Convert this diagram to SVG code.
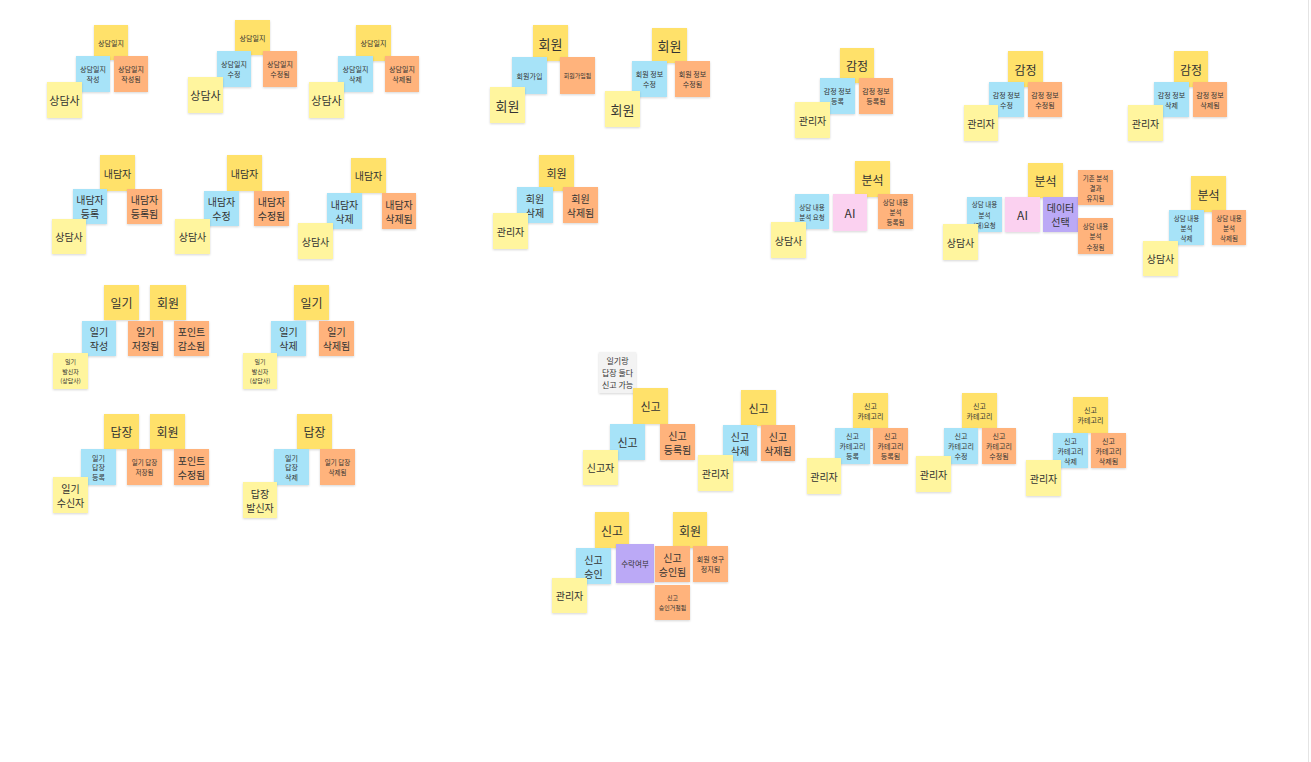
<svg xmlns="http://www.w3.org/2000/svg" width="1311" height="762" viewBox="0 0 1311 762">
<style>
rect{filter:url(#sh)}
.agg{fill:#FFE16A}
.act{fill:#FFF59E}
.cmd{fill:#A7E3F8}
.evt{fill:#FFB37C}
.ai{fill:#FBD1F0}
.pol{fill:#BBA9F6}
.memo{fill:#F3F3F3}
text{font-family:"Noto Sans CJK KR","Noto Sans",sans-serif;fill:#333;text-anchor:middle;dominant-baseline:central}
.s6{font-size:6px}.s65{font-size:6.5px}.s7{font-size:7px}.s75{font-size:7.5px}.s8{font-size:8px}
.s10{font-size:10px}.s11{font-size:11px}.s12{font-size:12px}.s13{font-size:13px}
</style>
<defs>
<filter id="sh" x="-20%" y="-20%" width="140%" height="150%">
<feDropShadow dx="0" dy="1" stdDeviation="1.1" flood-color="#000" flood-opacity="0.16"/>
</filter>
</defs>
<rect x="0" y="0" width="1311" height="762" fill="#fff" style="filter:none"/>
<rect x="1308" y="0" width="1" height="762" fill="#e4e4e4" style="filter:none"/>
<g id="connectors"></g>

<!-- 상담일지 작성 -->
<g id="g1-agg"><rect class="agg" x="94" y="25" width="34" height="35"/><text class="s7" x="111" y="42.5">상담일지</text></g>
<g id="g1-cmd"><rect class="cmd" x="76" y="56" width="34" height="36"/><text class="s7" x="93" y="69">상담일지</text><text class="s7" x="93" y="79">작성</text></g>
<g id="g1-evt"><rect class="evt" x="114" y="56" width="34" height="36"/><text class="s7" x="131" y="69">상담일지</text><text class="s7" x="131" y="79">작성됨</text></g>
<g id="g1-act"><rect class="act" x="47" y="82" width="35" height="36"/><text class="s11" x="64.5" y="100">상담사</text></g>

<g id="g2-agg"><rect class="agg" x="235" y="20" width="35" height="35"/><text class="s7" x="252.5" y="37.5">상담일지</text></g>
<g id="g2-cmd"><rect class="cmd" x="217" y="51" width="34" height="36"/><text class="s7" x="234" y="64">상담일지</text><text class="s7" x="234" y="74">수정</text></g>
<g id="g2-evt"><rect class="evt" x="263" y="51" width="34" height="36"/><text class="s7" x="280" y="64">상담일지</text><text class="s7" x="280" y="74">수정됨</text></g>
<g id="g2-act"><rect class="act" x="188" y="77" width="35" height="36"/><text class="s11" x="205.5" y="95">상담사</text></g>

<g id="g3-agg"><rect class="agg" x="356" y="25" width="35" height="36"/><text class="s7" x="373.5" y="43">상담일지</text></g>
<g id="g3-cmd"><rect class="cmd" x="338" y="56" width="35" height="36"/><text class="s7" x="355.5" y="69">상담일지</text><text class="s7" x="355.5" y="79">삭제</text></g>
<g id="g3-evt"><rect class="evt" x="385" y="56" width="34" height="36"/><text class="s7" x="402" y="69">상담일지</text><text class="s7" x="402" y="79">삭제됨</text></g>
<g id="g3-act"><rect class="act" x="309" y="82" width="35" height="36"/><text class="s11" x="326.5" y="100">상담사</text></g>

<!-- 내담자 -->
<g id="g4-agg"><rect class="agg" x="100" y="155" width="35" height="36"/><text class="s10" x="117.5" y="173">내담자</text></g>
<g id="g4-cmd"><rect class="cmd" x="73" y="189" width="34" height="35"/><text class="s10" x="90" y="199.5">내담자</text><text class="s10" x="90" y="213.5">등록</text></g>
<g id="g4-evt"><rect class="evt" x="127" y="189" width="35" height="35"/><text class="s10" x="144.5" y="199.5">내담자</text><text class="s10" x="144.5" y="213.5">등록됨</text></g>
<g id="g4-act"><rect class="act" x="52" y="219" width="34" height="35"/><text class="s10" x="69" y="236.5">상담사</text></g>

<g id="g5-agg"><rect class="agg" x="227" y="155" width="35" height="36"/><text class="s10" x="244.5" y="173">내담자</text></g>
<g id="g5-cmd"><rect class="cmd" x="204" y="191" width="35" height="35"/><text class="s10" x="221.5" y="201.5">내담자</text><text class="s10" x="221.5" y="215.5">수정</text></g>
<g id="g5-evt"><rect class="evt" x="254" y="191" width="35" height="35"/><text class="s10" x="271.5" y="201.5">내담자</text><text class="s10" x="271.5" y="215.5">수정됨</text></g>
<g id="g5-act"><rect class="act" x="175" y="219" width="35" height="35"/><text class="s10" x="192.5" y="236.5">상담사</text></g>

<g id="g6-agg"><rect class="agg" x="351" y="158" width="35" height="35"/><text class="s10" x="368.5" y="175.5">내담자</text></g>
<g id="g6-cmd"><rect class="cmd" x="327" y="193" width="35" height="36"/><text class="s10" x="344.5" y="204">내담자</text><text class="s10" x="344.5" y="218">삭제</text></g>
<g id="g6-evt"><rect class="evt" x="382" y="193" width="34" height="36"/><text class="s10" x="399" y="204">내담자</text><text class="s10" x="399" y="218">삭제됨</text></g>
<g id="g6-act"><rect class="act" x="298" y="223" width="35" height="36"/><text class="s10" x="315.5" y="241">상담사</text></g>

<!-- 일기 -->
<g id="g7-agg1"><rect class="agg" x="104" y="285" width="35" height="35"/><text class="s12" x="121.5" y="302.5">일기</text></g>
<g id="g7-agg2"><rect class="agg" x="150" y="285" width="36" height="35"/><text class="s12" x="168" y="302.5">회원</text></g>
<g id="g7-cmd"><rect class="cmd" x="82" y="321" width="34" height="35"/><text class="s10" x="99" y="331.5">일기</text><text class="s10" x="99" y="345.5">작성</text></g>
<g id="g7-evt1"><rect class="evt" x="128" y="321" width="35" height="35"/><text class="s10" x="145.5" y="331.5">일기</text><text class="s10" x="145.5" y="345.5">저장됨</text></g>
<g id="g7-evt2"><rect class="evt" x="174" y="321" width="35" height="35"/><text class="s10" x="191.5" y="331.5">포인트</text><text class="s10" x="191.5" y="345.5">감소됨</text></g>
<g id="g7-act"><rect class="act" x="53" y="353" width="35" height="36"/><text class="s6" x="70.5" y="361.5">일기</text><text class="s6" x="70.5" y="371">발신자</text><text class="s6" x="70.5" y="380.5">(상담사)</text></g>

<g id="g8-agg"><rect class="agg" x="294" y="285" width="35" height="35"/><text class="s12" x="311.5" y="302.5">일기</text></g>
<g id="g8-cmd"><rect class="cmd" x="271" y="321" width="35" height="35"/><text class="s10" x="288.5" y="331.5">일기</text><text class="s10" x="288.5" y="345.5">삭제</text></g>
<g id="g8-evt"><rect class="evt" x="319" y="321" width="35" height="35"/><text class="s10" x="336.5" y="331.5">일기</text><text class="s10" x="336.5" y="345.5">삭제됨</text></g>
<g id="g8-act"><rect class="act" x="243" y="353" width="34" height="36"/><text class="s6" x="260" y="361.5">일기</text><text class="s6" x="260" y="371">발신자</text><text class="s6" x="260" y="380.5">(상담사)</text></g>

<!-- 답장 -->
<g id="g9-agg1"><rect class="agg" x="104" y="414" width="35" height="35"/><text class="s12" x="121.5" y="431.5">답장</text></g>
<g id="g9-agg2"><rect class="agg" x="150" y="414" width="35" height="35"/><text class="s12" x="167.5" y="431.5">회원</text></g>
<g id="g9-cmd"><rect class="cmd" x="81" y="449" width="35" height="36"/><text class="s7" x="98.5" y="457.5">일기</text><text class="s7" x="98.5" y="467">답장</text><text class="s7" x="98.5" y="476.5">등록</text></g>
<g id="g9-evt1"><rect class="evt" x="127" y="449" width="35" height="36"/><text class="s65" x="144.5" y="462">일기 답장</text><text class="s65" x="144.5" y="472">저장됨</text></g>
<g id="g9-evt2"><rect class="evt" x="174" y="449" width="35" height="36"/><text class="s10" x="191.5" y="460">포인트</text><text class="s10" x="191.5" y="474">수정됨</text></g>
<g id="g9-act"><rect class="act" x="53" y="477" width="35" height="36"/><text class="s10" x="70.5" y="488">일기</text><text class="s10" x="70.5" y="502">수신자</text></g>

<g id="g10-agg"><rect class="agg" x="297" y="414" width="35" height="35"/><text class="s12" x="314.5" y="431.5">답장</text></g>
<g id="g10-cmd"><rect class="cmd" x="274" y="449" width="35" height="36"/><text class="s7" x="291.5" y="457.5">일기</text><text class="s7" x="291.5" y="467">답장</text><text class="s7" x="291.5" y="476.5">삭제</text></g>
<g id="g10-evt"><rect class="evt" x="320" y="449" width="35" height="36"/><text class="s65" x="337.5" y="462">일기 답장</text><text class="s65" x="337.5" y="472">삭제됨</text></g>
<g id="g10-act"><rect class="act" x="243" y="482" width="34" height="36"/><text class="s10" x="260" y="493">답장</text><text class="s10" x="260" y="507">발신자</text></g>

<!-- 회원 -->
<g id="g11-agg"><rect class="agg" x="533" y="25" width="35" height="36"/><text class="s13" x="550.5" y="43">회원</text></g>
<g id="g11-cmd"><rect class="cmd" x="512" y="57" width="35" height="37"/><text class="s7" x="529.5" y="75.5">회원가입</text></g>
<g id="g11-evt"><rect class="evt" x="560" y="57" width="35" height="37"/><text class="s6" x="577.5" y="75.5">회원가입됨</text></g>
<g id="g11-act"><rect class="act" x="490" y="87" width="35" height="36"/><text class="s13" x="507.5" y="105">회원</text></g>

<g id="g12-agg"><rect class="agg" x="652" y="28" width="35" height="35"/><text class="s13" x="669.5" y="45.5">회원</text></g>
<g id="g12-cmd"><rect class="cmd" x="632" y="61" width="35" height="36"/><text class="s7" x="649.5" y="74">회원 정보</text><text class="s7" x="649.5" y="84">수정</text></g>
<g id="g12-evt"><rect class="evt" x="675" y="61" width="35" height="36"/><text class="s7" x="692.5" y="74">회원 정보</text><text class="s7" x="692.5" y="84">수정됨</text></g>
<g id="g12-act"><rect class="act" x="605" y="91" width="35" height="36"/><text class="s13" x="622.5" y="109">회원</text></g>

<g id="g13-agg"><rect class="agg" x="539" y="155" width="35" height="36"/><text class="s11" x="556.5" y="173">회원</text></g>
<g id="g13-cmd"><rect class="cmd" x="517" y="187" width="36" height="36"/><text class="s10" x="535" y="198">회원</text><text class="s10" x="535" y="212">삭제</text></g>
<g id="g13-evt"><rect class="evt" x="563" y="187" width="35" height="36"/><text class="s10" x="580.5" y="198">회원</text><text class="s10" x="580.5" y="212">삭제됨</text></g>
<g id="g13-act"><rect class="act" x="493" y="213" width="35" height="36"/><text class="s10" x="510.5" y="231">관리자</text></g>

<!-- 감정 -->
<g id="g14-agg"><rect class="agg" x="840" y="48" width="34" height="35"/><text class="s12" x="857" y="65.5">감정</text></g>
<g id="g14-cmd"><rect class="cmd" x="820" y="78" width="35" height="36"/><text class="s7" x="837.5" y="91">감정 정보</text><text class="s7" x="837.5" y="101">등록</text></g>
<g id="g14-evt"><rect class="evt" x="859" y="78" width="34" height="36"/><text class="s7" x="876" y="91">감정 정보</text><text class="s7" x="876" y="101">등록됨</text></g>
<g id="g14-act"><rect class="act" x="795" y="102" width="35" height="36"/><text class="s10" x="812.5" y="120">관리자</text></g>

<g id="g15-agg"><rect class="agg" x="1008" y="51" width="35" height="36"/><text class="s12" x="1025.5" y="69">감정</text></g>
<g id="g15-cmd"><rect class="cmd" x="989" y="82" width="35" height="35"/><text class="s7" x="1006.5" y="94.5">감정 정보</text><text class="s7" x="1006.5" y="104.5">수정</text></g>
<g id="g15-evt"><rect class="evt" x="1028" y="82" width="34" height="35"/><text class="s7" x="1045" y="94.5">감정 정보</text><text class="s7" x="1045" y="104.5">수정됨</text></g>
<g id="g15-act"><rect class="act" x="964" y="105" width="34" height="36"/><text class="s10" x="981" y="123">관리자</text></g>

<g id="g16-agg"><rect class="agg" x="1174" y="51" width="34" height="36"/><text class="s12" x="1191" y="69">감정</text></g>
<g id="g16-cmd"><rect class="cmd" x="1154" y="82" width="35" height="35"/><text class="s7" x="1171.5" y="94.5">감정 정보</text><text class="s7" x="1171.5" y="104.5">삭제</text></g>
<g id="g16-evt"><rect class="evt" x="1193" y="82" width="34" height="35"/><text class="s7" x="1210" y="94.5">감정 정보</text><text class="s7" x="1210" y="104.5">삭제됨</text></g>
<g id="g16-act"><rect class="act" x="1128" y="105" width="35" height="36"/><text class="s10" x="1145.5" y="123">관리자</text></g>

<!-- 분석 -->
<g id="g17-agg"><rect class="agg" x="855" y="161" width="35" height="36"/><text class="s12" x="872.5" y="179">분석</text></g>
<g id="g17-cmd"><rect class="cmd" x="795" y="194" width="34" height="35"/><text class="s65" x="812" y="206.5">상담 내용</text><text class="s65" x="812" y="216.5">분석 요청</text></g>
<g id="g17-ai"><rect class="ai" x="833" y="194" width="34" height="37"/><text class="s12" x="850" y="212.5">AI</text></g>
<g id="g17-evt"><rect class="evt" x="878" y="194" width="35" height="35"/><text class="s65" x="895.5" y="201.5">상담 내용</text><text class="s65" x="895.5" y="211.5">분석</text><text class="s65" x="895.5" y="221.5">등록됨</text></g>
<g id="g17-act"><rect class="act" x="771" y="222" width="35" height="36"/><text class="s10" x="788.5" y="240">상담사</text></g>

<g id="g18-agg"><rect class="agg" x="1028" y="163" width="35" height="35"/><text class="s12" x="1045.5" y="180.5">분석</text></g>
<g id="g18-cmd"><rect class="cmd" x="967" y="197" width="35" height="35"/><text class="s65" x="984.5" y="204">상담 내용</text><text class="s65" x="984.5" y="214.5">분석</text><text class="s65" x="984.5" y="225">(재)요청</text></g>
<g id="g18-ai"><rect class="ai" x="1005" y="197" width="35" height="35"/><text class="s12" x="1022.5" y="214.5">AI</text></g>
<g id="g18-pol"><rect class="pol" x="1043" y="197" width="35" height="35"/><text class="s10" x="1060.5" y="207.5">데이터</text><text class="s10" x="1060.5" y="221.5">선택</text></g>
<g id="g18-evt1"><rect class="evt" x="1078" y="170" width="35" height="35"/><text class="s65" x="1095.5" y="177.5">기존 분석</text><text class="s65" x="1095.5" y="187.5">결과</text><text class="s65" x="1095.5" y="197.5">유지됨</text></g>
<g id="g18-evt2"><rect class="evt" x="1078" y="218" width="35" height="36"/><text class="s65" x="1095.5" y="225.5">상담 내용</text><text class="s65" x="1095.5" y="236">분석</text><text class="s65" x="1095.5" y="246.5">수정됨</text></g>
<g id="g18-act"><rect class="act" x="943" y="224" width="35" height="36"/><text class="s10" x="960.5" y="242">상담사</text></g>

<g id="g19-agg"><rect class="agg" x="1191" y="176" width="35" height="36"/><text class="s12" x="1208.5" y="194">분석</text></g>
<g id="g19-cmd"><rect class="cmd" x="1169" y="210" width="35" height="35"/><text class="s65" x="1186.5" y="217.5">상담 내용</text><text class="s65" x="1186.5" y="227.5">분석</text><text class="s65" x="1186.5" y="237.5">삭제</text></g>
<g id="g19-evt"><rect class="evt" x="1212" y="210" width="34" height="35"/><text class="s65" x="1229" y="217.5">상담 내용</text><text class="s65" x="1229" y="227.5">분석</text><text class="s65" x="1229" y="237.5">삭제됨</text></g>
<g id="g19-act"><rect class="act" x="1143" y="241" width="35" height="35"/><text class="s10" x="1160.5" y="258.5">상담사</text></g>

<!-- 신고 -->
<g id="memo"><rect class="memo" x="599" y="352" width="37" height="41"/><text class="s8" x="617.5" y="360.5">일기랑</text><text class="s8" x="617.5" y="372.5">답장 둘다</text><text class="s8" x="617.5" y="384.5">신고 가능</text></g>

<g id="g20-agg"><rect class="agg" x="633" y="388" width="35" height="36"/><text class="s11" x="650.5" y="406">신고</text></g>
<g id="g20-cmd"><rect class="cmd" x="610" y="424" width="35" height="36"/><text class="s11" x="627.5" y="442">신고</text></g>
<g id="g20-evt"><rect class="evt" x="660" y="424" width="35" height="36"/><text class="s10" x="677.5" y="435">신고</text><text class="s10" x="677.5" y="449">등록됨</text></g>
<g id="g20-act"><rect class="act" x="583" y="450" width="35" height="35"/><text class="s10" x="600.5" y="467.5">신고자</text></g>

<g id="g21-agg"><rect class="agg" x="741" y="390" width="35" height="36"/><text class="s11" x="758.5" y="408">신고</text></g>
<g id="g21-cmd"><rect class="cmd" x="723" y="425" width="34" height="36"/><text class="s10" x="740" y="436">신고</text><text class="s10" x="740" y="450">삭제</text></g>
<g id="g21-evt"><rect class="evt" x="761" y="425" width="34" height="36"/><text class="s10" x="778" y="436">신고</text><text class="s10" x="778" y="450">삭제됨</text></g>
<g id="g21-act"><rect class="act" x="698" y="455" width="35" height="36"/><text class="s10" x="715.5" y="473">관리자</text></g>

<g id="g22-agg"><rect class="agg" x="853" y="393" width="35" height="35"/><text class="s7" x="870.5" y="405.5">신고</text><text class="s7" x="870.5" y="415.5">카테고리</text></g>
<g id="g22-cmd"><rect class="cmd" x="835" y="428" width="35" height="36"/><text class="s7" x="852.5" y="436">신고</text><text class="s7" x="852.5" y="446">카테고리</text><text class="s7" x="852.5" y="456">등록</text></g>
<g id="g22-evt"><rect class="evt" x="873" y="428" width="35" height="36"/><text class="s7" x="890.5" y="436">신고</text><text class="s7" x="890.5" y="446">카테고리</text><text class="s7" x="890.5" y="456">등록됨</text></g>
<g id="g22-act"><rect class="act" x="807" y="458" width="34" height="36"/><text class="s10" x="824" y="476">관리자</text></g>

<g id="g23-agg"><rect class="agg" x="962" y="393" width="35" height="35"/><text class="s7" x="979.5" y="405.5">신고</text><text class="s7" x="979.5" y="415.5">카테고리</text></g>
<g id="g23-cmd"><rect class="cmd" x="944" y="428" width="34" height="36"/><text class="s7" x="961" y="436">신고</text><text class="s7" x="961" y="446">카테고리</text><text class="s7" x="961" y="456">수정</text></g>
<g id="g23-evt"><rect class="evt" x="982" y="428" width="34" height="36"/><text class="s7" x="999" y="436">신고</text><text class="s7" x="999" y="446">카테고리</text><text class="s7" x="999" y="456">수정됨</text></g>
<g id="g23-act"><rect class="act" x="916" y="456" width="35" height="36"/><text class="s10" x="933.5" y="474">관리자</text></g>

<g id="g24-agg"><rect class="agg" x="1073" y="397" width="35" height="36"/><text class="s7" x="1090.5" y="410">신고</text><text class="s7" x="1090.5" y="420">카테고리</text></g>
<g id="g24-cmd"><rect class="cmd" x="1053" y="433" width="35" height="35"/><text class="s7" x="1070.5" y="440.5">신고</text><text class="s7" x="1070.5" y="450.5">카테고리</text><text class="s7" x="1070.5" y="460.5">삭제</text></g>
<g id="g24-evt"><rect class="evt" x="1091" y="433" width="35" height="35"/><text class="s7" x="1108.5" y="440.5">신고</text><text class="s7" x="1108.5" y="450.5">카테고리</text><text class="s7" x="1108.5" y="460.5">삭제됨</text></g>
<g id="g24-act"><rect class="act" x="1026" y="460" width="35" height="36"/><text class="s10" x="1043.5" y="478">관리자</text></g>

<g id="g25-agg1"><rect class="agg" x="595" y="512" width="34" height="36"/><text class="s12" x="612" y="530">신고</text></g>
<g id="g25-agg2"><rect class="agg" x="673" y="512" width="34" height="36"/><text class="s12" x="690" y="530">회원</text></g>
<g id="g25-cmd"><rect class="cmd" x="576" y="548" width="35" height="36"/><text class="s10" x="593.5" y="559">신고</text><text class="s10" x="593.5" y="573">승인</text></g>
<g id="g25-pol"><rect class="pol" x="616" y="544" width="38" height="39"/><text class="s75" x="635" y="563.5">수락여부</text></g>
<g id="g25-evt1"><rect class="evt" x="655" y="546" width="35" height="36"/><text class="s10" x="672.5" y="557">신고</text><text class="s10" x="672.5" y="571">승인됨</text></g>
<g id="g25-evt2"><rect class="evt" x="693" y="546" width="35" height="36"/><text class="s7" x="710.5" y="559">회원 영구</text><text class="s7" x="710.5" y="569">정지됨</text></g>
<g id="g25-evt3"><rect class="evt" x="655" y="585" width="35" height="35"/><text class="s6" x="672.5" y="597.5">신고</text><text class="s6" x="672.5" y="607.5">승인거절됨</text></g>
<g id="g25-act"><rect class="act" x="552" y="578" width="35" height="35"/><text class="s10" x="569.5" y="595.5">관리자</text></g>
</svg>
